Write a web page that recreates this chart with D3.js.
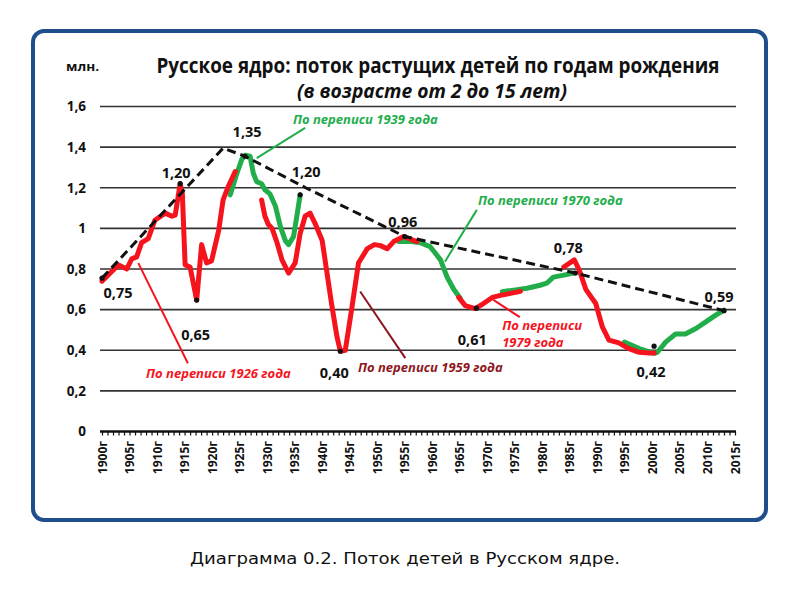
<!DOCTYPE html>
<html>
<head>
<meta charset="utf-8">
<script src="https://cdn.jsdelivr.net/npm/d3@7"></script>
<style>
  body { margin: 0; background: #fff; }
  svg { display: block; font-family: 'Open Sans', sans-serif; }
</style>
</head>
<body>
<svg id="chart" width="800" height="600"></svg>
<script>
// Births by year, as counted at each census (millions of children aged 2-15)
const census1926 = [
  [1900, 0.74], [1901.5, 0.78], [1903, 0.82], [1904.5, 0.80], [1905.4, 0.85],
  [1906.3, 0.86], [1907.2, 0.93], [1908.4, 0.95], [1909.6, 1.04], [1911.5, 1.075],
  [1912.7, 1.06], [1913.3, 1.065], [1914.2, 1.22], [1914.6, 1.17], [1915.1, 0.82],
  [1916, 0.81], [1917.2, 0.647], [1918.1, 0.92], [1919, 0.83], [1919.9, 0.84],
  [1921.2, 0.99], [1922, 1.14], [1923, 1.21], [1924.2, 1.28]
]
const census1939 = [
  [1923.3, 1.165], [1924.5, 1.27], [1925.4, 1.34], [1926, 1.36], [1926.9, 1.355],
  [1927.5, 1.27], [1928.1, 1.23], [1929, 1.22], [1929.6, 1.19], [1930.5, 1.17],
  [1931.5, 1.11], [1932.4, 1.01], [1933.3, 0.94], [1933.9, 0.92], [1934.8, 0.96],
  [1935.4, 1.06], [1936, 1.165]
]
const census1959 = [
  [1929, 1.14], [1929.6, 1.06], [1930.2, 1.02], [1930.9, 1.0], [1931.8, 0.93],
  [1932.7, 0.845], [1933.9, 0.78], [1935.1, 0.83], [1936, 0.975], [1936.9, 1.06],
  [1937.8, 1.075], [1938.7, 1.025], [1940, 0.94], [1940.8, 0.795], [1941.7, 0.63],
  [1942.7, 0.465], [1943.3, 0.395], [1944.2, 0.40], [1945.4, 0.61], [1946.6, 0.83],
  [1948.2, 0.90], [1949.5, 0.92], [1950.6, 0.915], [1951.8, 0.90], [1953, 0.935],
  [1954.8, 0.96], [1957.2, 0.935]
]
const census1970 = [
  [1953.9, 0.935], [1956, 0.935], [1957.8, 0.93], [1959.6, 0.91], [1960.5, 0.88],
  [1961.5, 0.845], [1962.7, 0.76], [1963.9, 0.70], [1965.1, 0.655]
]
const census1979 = [
  [1964.8, 0.66], [1966, 0.62], [1967.8, 0.605], [1969.3, 0.63], [1970.9, 0.66],
  [1972.4, 0.67], [1974.2, 0.68], [1976, 0.69]
]
const census1989 = [
  [1972.7, 0.688], [1974.8, 0.696], [1977.2, 0.705], [1979.6, 0.72], [1980.8, 0.73],
  [1982, 0.76], [1983.9, 0.77], [1985.7, 0.78]
]
const census2002 = [
  [1983.9, 0.81], [1985.8, 0.845], [1986.7, 0.795], [1987.9, 0.70], [1989.7, 0.63],
  [1990.9, 0.515], [1992.1, 0.45], [1993.9, 0.436], [1995.7, 0.408], [1997.6, 0.39],
  [1999.4, 0.387], [2000.3, 0.387]
]
const census2010 = [
  [1994.9, 0.44], [1997.6, 0.408], [2000.3, 0.385], [2000.9, 0.39], [2002.4, 0.44],
  [2004.2, 0.48], [2006, 0.48], [2007.9, 0.507], [2009.7, 0.54], [2011.5, 0.573],
  [2013, 0.598]
]

// Dashed envelope through the peaks
const trend = [
  [1900, 0.755], [1922, 1.395], [1926, 1.355], [1937, 1.2], [1955, 0.96],
  [1986, 0.78], [2013, 0.595]
]

// Marked points and their captions
const marked = [
  [1900, 0.755, '0,75'], [1914.2, 1.22, '1,20'], [1926, 1.355, '1,35'],
  [1936, 1.165, '1,20'], [1917.2, 0.647, '0,65'], [1943.3, 0.395, '0,40'],
  [1955, 0.96, '0,96'], [1968, 0.607, '0,61'], [1986, 0.78, '0,78'],
  [2000.3, 0.42, '0,42'], [2013, 0.595, '0,59']
]

const yTicks = [0, 0.2, 0.4, 0.6, 0.8, 1, 1.2, 1.4, 1.6]
const yearLabels = d3.range(1900, 2016, 5)

const RED = '#f5141e'
const GREEN = '#22ad4b'
const DARKRED = '#8e1620'

const svg = d3.select('#chart')

// Frame around the chart
svg.append('rect')
  .attr('x', 33).attr('y', 31)
  .attr('width', 733).attr('height', 489)
  .attr('rx', 11)
  .attr('fill', '#fff')
  .attr('stroke', '#1f4e8c')
  .attr('stroke-width', 4)

const x = d3.scaleLinear().domain([1900, 2015]).range([102, 735])
const y = d3.scaleLinear().domain([0, 1.6]).range([431.5, 106.5])

// Horizontal gridlines
svg.append('g')
  .selectAll('line')
  .data(yTicks.filter(d => d > 0))
  .join('line')
  .attr('x1', 100).attr('x2', 736)
  .attr('y1', d => y(d)).attr('y2', d => y(d))
  .attr('stroke', '#333')
  .attr('stroke-width', 1.6)

// Y axis labels
const fmt = d => String(+d.toFixed(1)).replace('.', ',')
const yAxis = svg.append('g')
  .attr('transform', 'translate(100,0)')
  .call(d3.axisLeft(y).tickValues(yTicks).tickSize(0).tickPadding(14).tickFormat(fmt))
yAxis.select('.domain').remove()
yAxis.selectAll('text')
  .attr('font-family', 'Open Sans')
  .attr('font-weight', 700)
  .attr('font-size', 13.5)
  .attr('fill', '#111')

// X axis with a tick every year
const xAxis = svg.append('g')
  .attr('transform', `translate(0,${y(0)})`)
  .call(d3.axisBottom(x).tickValues(d3.range(1900, 2016)).tickSize(4).tickFormat(''))
xAxis.select('.domain')
  .attr('d', `M100,0H736`)
  .attr('stroke', '#111')
  .attr('stroke-width', 2.5)
xAxis.selectAll('.tick line').attr('stroke', '#111').attr('stroke-width', 1.2)

svg.append('g')
  .selectAll('text')
  .data(yearLabels)
  .join('text')
  .attr('transform', d => `translate(${x(d) + 4.5},441) rotate(-90)`)
  .attr('text-anchor', 'end')
  .attr('font-weight', 700)
  .attr('font-size', 12)
  .attr('fill', '#111')
  .text(d => d + 'г')

// Census lines: green underneath, red on top
const line = d3.line().x(d => x(d[0])).y(d => y(d[1]))
const series = [
  [census1939, GREEN], [census1970, GREEN], [census1989, GREEN], [census2010, GREEN],
  [census1926, RED], [census1959, RED], [census1979, RED], [census2002, RED]
]
svg.append('g')
  .selectAll('path')
  .data(series)
  .join('path')
  .attr('d', d => line(d[0]))
  .attr('fill', 'none')
  .attr('stroke', d => d[1])
  .attr('stroke-width', 5)
  .attr('stroke-linejoin', 'round')
  .attr('stroke-linecap', 'round')

// Dashed envelope
svg.append('path')
  .attr('d', line(trend))
  .attr('fill', 'none')
  .attr('stroke', '#111')
  .attr('stroke-width', 3)
  .attr('stroke-dasharray', '9,5')

// Black dots on the marked points
svg.append('g')
  .selectAll('circle')
  .data(marked)
  .join('circle')
  .attr('cx', d => x(d[0]))
  .attr('cy', d => y(d[1]))
  .attr('r', 2.6)
  .attr('fill', '#111')

// Value captions, offset from their point
const offsets = [
  [16, 20], [-4, -6], [2, -19], [6, -18], [-1, 40], [-6, 27],
  [-2, -10], [-4, 37], [-7, -20], [-3, 31], [-5, -9]
]
svg.append('g')
  .selectAll('text')
  .data(marked)
  .join('text')
  .attr('x', (d, i) => x(d[0]) + offsets[i][0])
  .attr('y', (d, i) => y(d[1]) + offsets[i][1])
  .attr('text-anchor', 'middle')
  .attr('font-weight', 700)
  .attr('font-size', 14.5)
  .attr('fill', '#111')
  .text(d => d[2])

// Census annotations with leader lines (in year / value coordinates)
const notes = [
  { lines: ['По переписи 1939 года'], at: [1934.7, 1.515], from: [1936.9, 1.495], to: [1928.1, 1.346], color: GREEN },
  { lines: ['По переписи 1970 года'], at: [1968.3, 1.116], from: [1968.1, 1.091], to: [1962.3, 0.836], color: GREEN },
  { lines: ['По переписи 1926 года'], at: [1908.0, 0.264], from: [1906.6, 0.829], to: [1915.6, 0.336], color: RED },
  { lines: ['По переписи 1959 года'], at: [1946.5, 0.293], from: [1946.9, 0.689], to: [1955.1, 0.361], color: DARKRED },
  { lines: ['По переписи', '1979 года'], at: [1972.7, 0.5], from: [1971.1, 0.648], to: [1975.9, 0.563], color: RED }
]
const noteG = svg.append('g')
notes.forEach(n => {
  noteG.append('line')
    .attr('x1', x(n.from[0])).attr('y1', y(n.from[1]))
    .attr('x2', x(n.to[0])).attr('y2', y(n.to[1]))
    .attr('stroke', n.color)
    .attr('stroke-width', 2)
  const t = noteG.append('text')
    .attr('x', x(n.at[0]))
    .attr('y', y(n.at[1]))
    .attr('font-style', 'italic')
    .attr('font-weight', 700)
    .attr('font-size', 13)
    .attr('fill', n.color)
  n.lines.forEach((s, i) => {
    t.append('tspan').attr('x', x(n.at[0])).attr('dy', i ? 17 : 0).text(s)
  })
})

// Titles
svg.append('text')
  .attr('x', 66).attr('y', 71)
  .attr('font-weight', 700).attr('font-size', 12.5).attr('fill', '#111')
  .attr('textLength', 33).attr('lengthAdjust', 'spacingAndGlyphs')
  .text('млн.')

svg.append('text')
  .attr('x', 438).attr('y', 73)
  .attr('text-anchor', 'middle')
  .attr('font-weight', 700).attr('font-size', 21).attr('fill', '#111')
  .attr('textLength', 563).attr('lengthAdjust', 'spacingAndGlyphs')
  .text('Русское ядро: поток растущих детей по годам рождения')

svg.append('text')
  .attr('x', 432).attr('y', 98)
  .attr('text-anchor', 'middle')
  .attr('font-weight', 700).attr('font-style', 'italic').attr('font-size', 19).attr('fill', '#111')
  .attr('textLength', 270).attr('lengthAdjust', 'spacingAndGlyphs')
  .text('(в возрасте от 2 до 15 лет)')

// Caption under the frame
svg.append('text')
  .attr('x', 405).attr('y', 564)
  .attr('text-anchor', 'middle')
  .attr('font-family', 'DejaVu Sans')
  .attr('font-size', 16).attr('fill', '#111')
  .attr('textLength', 430).attr('lengthAdjust', 'spacingAndGlyphs')
  .text('Диаграмма 0.2. Поток детей в Русском ядре.')
</script>
</body>
</html>
